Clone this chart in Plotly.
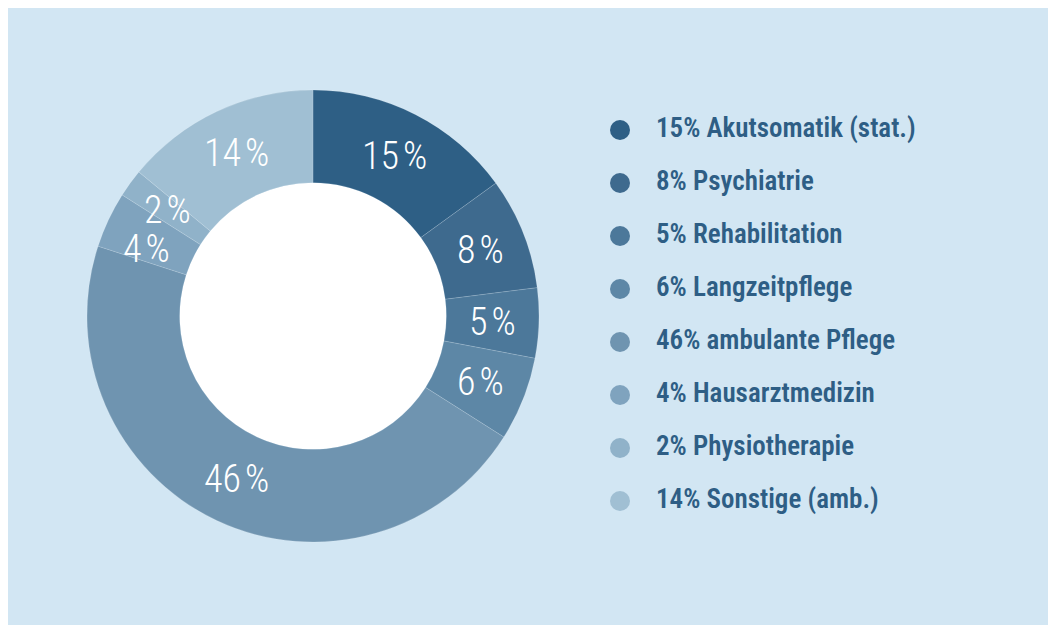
import math
import plotly.graph_objects as go

categories = ["Akutsomatik (stat.)", "Psychiatrie", "Rehabilitation", "Langzeitpflege",
              "ambulante Pflege", "Hausarztmedizin", "Physiotherapie", "Sonstige (amb.)"]
values = [15, 8, 5, 6, 46, 4, 2, 14]
colors = ["#2e5f85", "#3e6a8e", "#4c789a", "#5d87a6", "#6f94b0", "#7fa3be", "#90b2c9", "#a0bfd3"]

W, H = 1056, 625
BG = "#d2e6f3"
TXT = "#2e5e85"
FONT = "Roboto Condensed, Roboto"

fig = go.Figure()

# donut geometry in figure pixels (page body adds an 8px offset)
cx, cy, R = 305, 308, 226
HOLE = 0.59
fig.add_trace(go.Pie(
    labels=categories, values=values, sort=False, direction="clockwise", rotation=0,
    hole=HOLE,
    marker=dict(colors=colors, line=dict(color="rgba(255,255,255,0.25)", width=0.6)),
    textinfo="none",
    domain=dict(x=[(cx - R) / W, (cx + R) / W], y=[(H - cy - R) / H, (H - cy + R) / H]),
    showlegend=False, hoverinfo="label+percent",
))

# slice labels at mid-ring radius, angles derived from the values
# (the tiny neighbouring slices get their labels nudged apart, as in the original)
angle_nudge = {5: -3.3}
total = sum(values)
annotations = []
cum = 0
rmid = (R + R * HOLE) / 2
for i, v in enumerate(values):
    a = 2 * math.pi * (cum + v / 2) / total + math.radians(angle_nudge.get(i, 0))
    cum += v
    px = cx + rmid * math.sin(a)
    py = cy - rmid * math.cos(a)
    annotations.append(dict(
        x=px / W, y=1 - py / H, xref="paper", yref="paper", showarrow=False,
        text=f"{v}\u200a%", xanchor="center", yanchor="middle",
        font=dict(family=FONT, size=38, color="white", weight=300),
    ))

# legend built as a scatter on its own axes
ys = [122 + 53 * i for i in range(len(values))]
legend_text = [f"{v}% {c}" for v, c in zip(values, categories)]
fig.add_trace(go.Scatter(
    x=[0] * len(values), y=ys, mode="markers", cliponaxis=False,
    marker=dict(size=20, color=colors, line=dict(width=0)),
    showlegend=False, hoverinfo="skip",
))
fig.add_trace(go.Scatter(
    x=[36] * len(values), y=ys, mode="text", text=legend_text, cliponaxis=False,
    textposition="middle right",
    textfont=dict(family=FONT, size=27, color=TXT, weight=600),
    showlegend=False, hoverinfo="skip",
))

x0 = 612
r_in = R * HOLE
fig.update_layout(
    width=W, height=H,
    margin=dict(l=0, r=0, t=0, b=0),
    paper_bgcolor=BG, plot_bgcolor="rgba(0,0,0,0)",
    xaxis=dict(domain=[x0 / W, 1], range=[0, W - x0], visible=False, fixedrange=True),
    yaxis=dict(domain=[0, 1], range=[H, 0], visible=False, fixedrange=True),
    shapes=[dict(type="circle", xref="paper", yref="paper",
                 x0=(cx - r_in) / W, x1=(cx + r_in) / W,
                 y0=1 - (cy + r_in) / H, y1=1 - (cy - r_in) / H,
                 fillcolor="white", line=dict(width=0), layer="below")],
    annotations=annotations,
)

fig.write_html("out.html")
